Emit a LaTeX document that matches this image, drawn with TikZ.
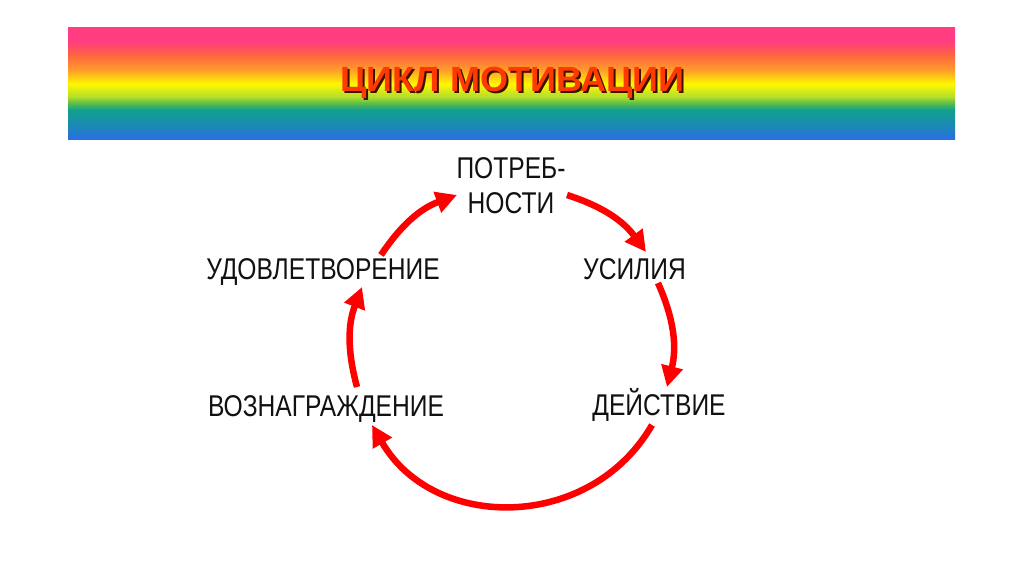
\documentclass[tikz,border=0pt]{standalone}
\usepackage{fontspec}
\usetikzlibrary{arrows.meta}
\newfontfamily\lblfont[FakeStretch=0.82]{Liberation Sans}
\newfontfamily\ttlfont[FakeStretch=1.03]{Liberation Sans}
\definecolor{rbPink}{HTML}{FF3D80}
\definecolor{rbRed}{HTML}{FF6440}
\definecolor{rbOrange}{HTML}{FF9C2A}
\definecolor{rbYellow}{HTML}{FFF800}
\definecolor{rbLime}{HTML}{B0DE2C}
\definecolor{rbGreen}{HTML}{5CBE48}
\definecolor{rbTeal}{HTML}{12A08C}
\definecolor{rbCyan}{HTML}{1A8AB4}
\definecolor{rbBlue}{HTML}{2C6CE6}
\definecolor{ttlRed}{HTML}{FF3A00}
\definecolor{ttlShadow}{HTML}{3A1200}
\definecolor{arrRed}{HTML}{FF0000}
\definecolor{lblBlack}{HTML}{111111}
\pgfdeclareverticalshading{rainbow}{100bp}{%
  color(0bp)=(rbBlue); color(25bp)=(rbBlue); color(31.7bp)=(rbCyan);
  color(38.4bp)=(rbTeal); color(41.5bp)=(rbGreen); color(44.2bp)=(rbLime);
  color(50bp)=(rbYellow); color(56.3bp)=(rbOrange); color(63bp)=(rbRed);
  color(69bp)=(rbPink); color(75bp)=(rbPink); color(100bp)=(rbPink)}
\begin{document}
\begin{tikzpicture}[x=1pt,y=1pt,
  lbl/.style={font=\lblfont\fontsize{30}{35}\selectfont, text=lblBlack, inner sep=0pt, anchor=base, align=center},
  ttl/.style={font=\ttlfont\bfseries\fontsize{35}{40}\selectfont, inner sep=0pt, anchor=base},
  cyc/.style={draw=arrRed, line width=6.5pt, -{Triangle[length=21pt,width=21pt]}, bend left=#1}]
\useasboundingbox (0,0) rectangle (1024,574);
\fill[white] (0,0) rectangle (1024,574);
\shade[shading=rainbow] (68,434) rectangle (955,546);
% title
\node[ttl, text=ttlShadow] (titleshadow) at (514.5,480) {ЦИКЛ МОТИВАЦИИ};
\node[ttl, text=ttlRed] (title) at (512.5,482) {ЦИКЛ МОТИВАЦИИ};
% labels
\node[lbl] (need) at (511,360) {ПОТРЕБ-\\НОСТИ};
\node[lbl] (effort) at (634.5,295) {УСИЛИЯ};
\node[lbl] (action) at (659,159) {ДЕЙСТВИЕ};
\node[lbl] (reward) at (326,158) {ВОЗНАГРАЖДЕНИЕ};
\node[lbl] (satis) at (323,295) {УДОВЛЕТВОРЕНИЕ};
% arrow ends
\coordinate (a1s) at (567,379); \coordinate (a1e) at (646,322);
\coordinate (a2s) at (658,291); \coordinate (a2e) at (667,187);
\coordinate (a3s) at (652,149); \coordinate (a3e) at (372,149);
\coordinate (a4s) at (357,187); \coordinate (a4e) at (362,287);
\coordinate (a5s) at (381,319); \coordinate (a5e) at (457,379);
\draw[cyc=18] (a1s) to (a1e);
\draw[cyc=19] (a2s) to (a2e);
\draw[cyc=60, looseness=1.13] (a3s) to (a3e);
\draw[cyc=18] (a4s) to (a4e);
\draw[cyc=18] (a5s) to (a5e);
\end{tikzpicture}
\end{document}
